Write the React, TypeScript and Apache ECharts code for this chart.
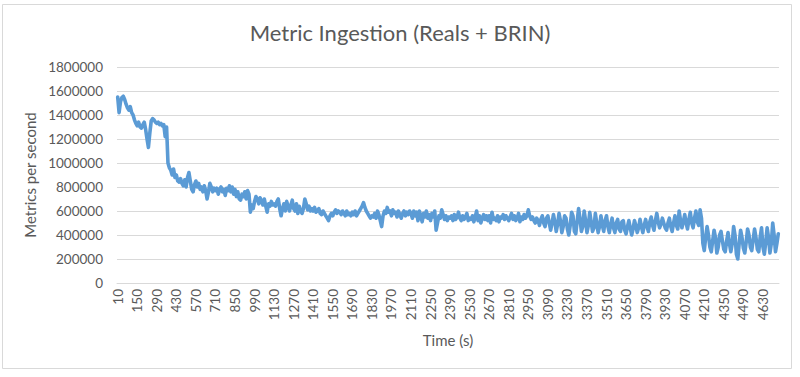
import React, { useEffect, useRef } from "react";
import * as echarts from "echarts";

const title = "Metric Ingestion (Reals + BRIN)";
const xAxisTitle = "Time (s)";
const yAxisTitle = "Metrics per second";

// Time in seconds: 10, 20, ... 4740 (one sample every 10 s)
const startTime = 10;
const stepTime = 10;

// Metrics per second, in thousands (14 samples per row = 140 s)
const valuesK: number[] = [
  1550, 1420, 1510, 1545, 1556, 1530, 1490, 1460, 1440, 1470, 1420, 1400, 1360, 1330,
  1310, 1340, 1300, 1290, 1320, 1340, 1280, 1200, 1130, 1250, 1350, 1370, 1360, 1340,
  1330, 1340, 1320, 1330, 1310, 1320, 1220, 1300, 1000, 960, 940, 900, 950, 880,
  900, 850, 840, 870, 830, 810, 860, 800, 880, 920, 850, 780, 760, 820,
  850, 800, 830, 780, 800, 760, 810, 770, 700, 760, 830, 800, 760, 790,
  770, 790, 740, 780, 800, 760, 780, 730, 790, 770, 810, 760, 800, 740,
  780, 720, 760, 700, 690, 740, 720, 760, 700, 770, 740, 590, 650, 620,
  680, 720, 700, 660, 710, 680, 650, 700, 640, 590, 660, 640, 680, 650,
  660, 640, 680, 700, 620, 560, 620, 660, 600, 680, 640, 600, 650, 690,
  620, 600, 660, 580, 640, 600, 580, 620, 700, 660, 610, 640, 600, 620,
  600, 630, 590, 600, 620, 580, 570, 600, 580, 560, 540, 520, 560, 580,
  560, 590, 610, 580, 600, 590, 570, 600, 580, 560, 600, 570, 580, 560,
  590, 570, 600, 560, 580, 600, 620, 640, 670, 630, 600, 580, 560, 540,
  560, 550, 580, 540, 600, 570, 520, 470, 560, 600, 580, 630, 590, 600,
  560, 610, 580, 590, 550, 600, 570, 540, 580, 600, 560, 590, 570, 600,
  580, 540, 600, 560, 590, 520, 600, 560, 510, 580, 550, 600, 540, 570,
  520, 580, 550, 600, 440, 500, 560, 540, 610, 570, 530, 560, 520, 550,
  540, 560, 520, 570, 530, 550, 590, 540, 520, 560, 530, 550, 580, 520,
  540, 530, 560, 510, 550, 600, 520, 560, 500, 540, 570, 530, 560, 520,
  560, 500, 590, 530, 540, 520, 560, 510, 550, 540, 570, 530, 560, 540,
  520, 550, 580, 530, 560, 520, 540, 580, 510, 550, 530, 570, 540, 560,
  610, 560, 530, 550, 520, 500, 540, 520, 480, 530, 560, 500, 470, 540,
  560, 500, 440, 500, 570, 510, 430, 490, 580, 520, 420, 470, 560, 540,
  450, 400, 480, 590, 560, 430, 410, 520, 620, 540, 430, 470, 600, 520,
  420, 480, 590, 510, 430, 460, 580, 500, 420, 470, 560, 480, 430, 520,
  560, 470, 420, 490, 540, 460, 420, 500, 530, 450, 430, 510, 520, 440,
  410, 470, 520, 460, 400, 450, 520, 480, 420, 460, 530, 470, 420, 480,
  530, 470, 430, 510, 550, 480, 440, 520, 580, 510, 460, 490, 540, 500,
  460, 440, 500, 540, 470, 430, 500, 560, 480, 450, 600, 520, 460, 510,
  570, 500, 450, 530, 590, 500, 460, 540, 600, 510, 480, 610, 540, 330,
  270, 380, 470, 400, 300, 260, 350, 440, 380, 250, 300, 400, 430, 350,
  280, 260, 350, 420, 330, 260, 330, 470, 400, 240, 200, 330, 440, 380,
  290, 250, 340, 450, 400, 300, 270, 360, 450, 380, 280, 260, 380, 460,
  300, 240, 340, 460, 380, 250, 330, 500, 400, 260, 330, 410,
];

const yMin = 0;
const yMax = 1800000;
const yInterval = 200000;

const times: string[] = valuesK.map((_, i) => String(startTime + i * stepTime));
const values: number[] = valuesK.map((v) => v * 1000);

const FONT = "Lato, 'Open Sans', sans-serif";
const TEXT = "#595959";
const GRID = "#D9D9D9";

export default function App() {
  const ref = useRef<HTMLDivElement>(null);
  useEffect(() => {
    if (!ref.current) return;
    const chart = echarts.init(ref.current, undefined, { renderer: "svg" });
    chart.setOption({
      animation: false,
      backgroundColor: "#ffffff",
      title: {
        text: title,
        left: "center",
        top: 16,
        textStyle: { fontFamily: FONT, fontSize: 22, fontWeight: "normal", color: TEXT },
      },
      graphic: [
        {
          type: "rect",
          shape: { x: 2.5, y: 4.5, width: 789, height: 364 },
          style: { fill: "none", stroke: GRID, lineWidth: 1 },
          silent: true,
        },
      ],
      grid: { left: 117, right: 21, top: 67, bottom: 94, containLabel: false },
      xAxis: {
        type: "category",
        data: times,
        boundaryGap: true,
        name: xAxisTitle,
        nameLocation: "middle",
        nameGap: 49,
        nameTextStyle: { fontFamily: FONT, fontSize: 15, color: TEXT },
        axisLine: { show: true, lineStyle: { color: GRID, width: 1 } },
        axisTick: { show: false },
        axisLabel: {
          interval: 13,
          rotate: 90,
          margin: 6,
          fontFamily: FONT,
          fontSize: 13.5,
          color: TEXT,
        },
        splitLine: { show: false },
      },
      yAxis: {
        type: "value",
        min: yMin,
        max: yMax,
        interval: yInterval,
        name: yAxisTitle,
        nameLocation: "middle",
        nameGap: 76,
        nameTextStyle: { fontFamily: FONT, fontSize: 15, color: TEXT },
        axisLine: { show: false },
        axisTick: { show: false },
        axisLabel: {
          margin: 14,
          fontFamily: FONT,
          fontSize: 13.5,
          color: TEXT,
          formatter: (v: number) => String(v),
        },
        splitLine: { show: true, lineStyle: { color: GRID, width: 1 } },
      },
      series: [
        {
          type: "line",
          data: values,
          showSymbol: false,
          symbol: "none",
          lineStyle: { color: "#5B9BD5", width: 3.6, join: "round", cap: "round" },
          itemStyle: { color: "#5B9BD5" },
        },
      ],
    });
    return () => chart.dispose();
  }, []);
  return (
    <div
      ref={ref}
      style={{ position: "fixed", left: 0, top: 0, width: 800, height: 377 }}
    />
  );
}
